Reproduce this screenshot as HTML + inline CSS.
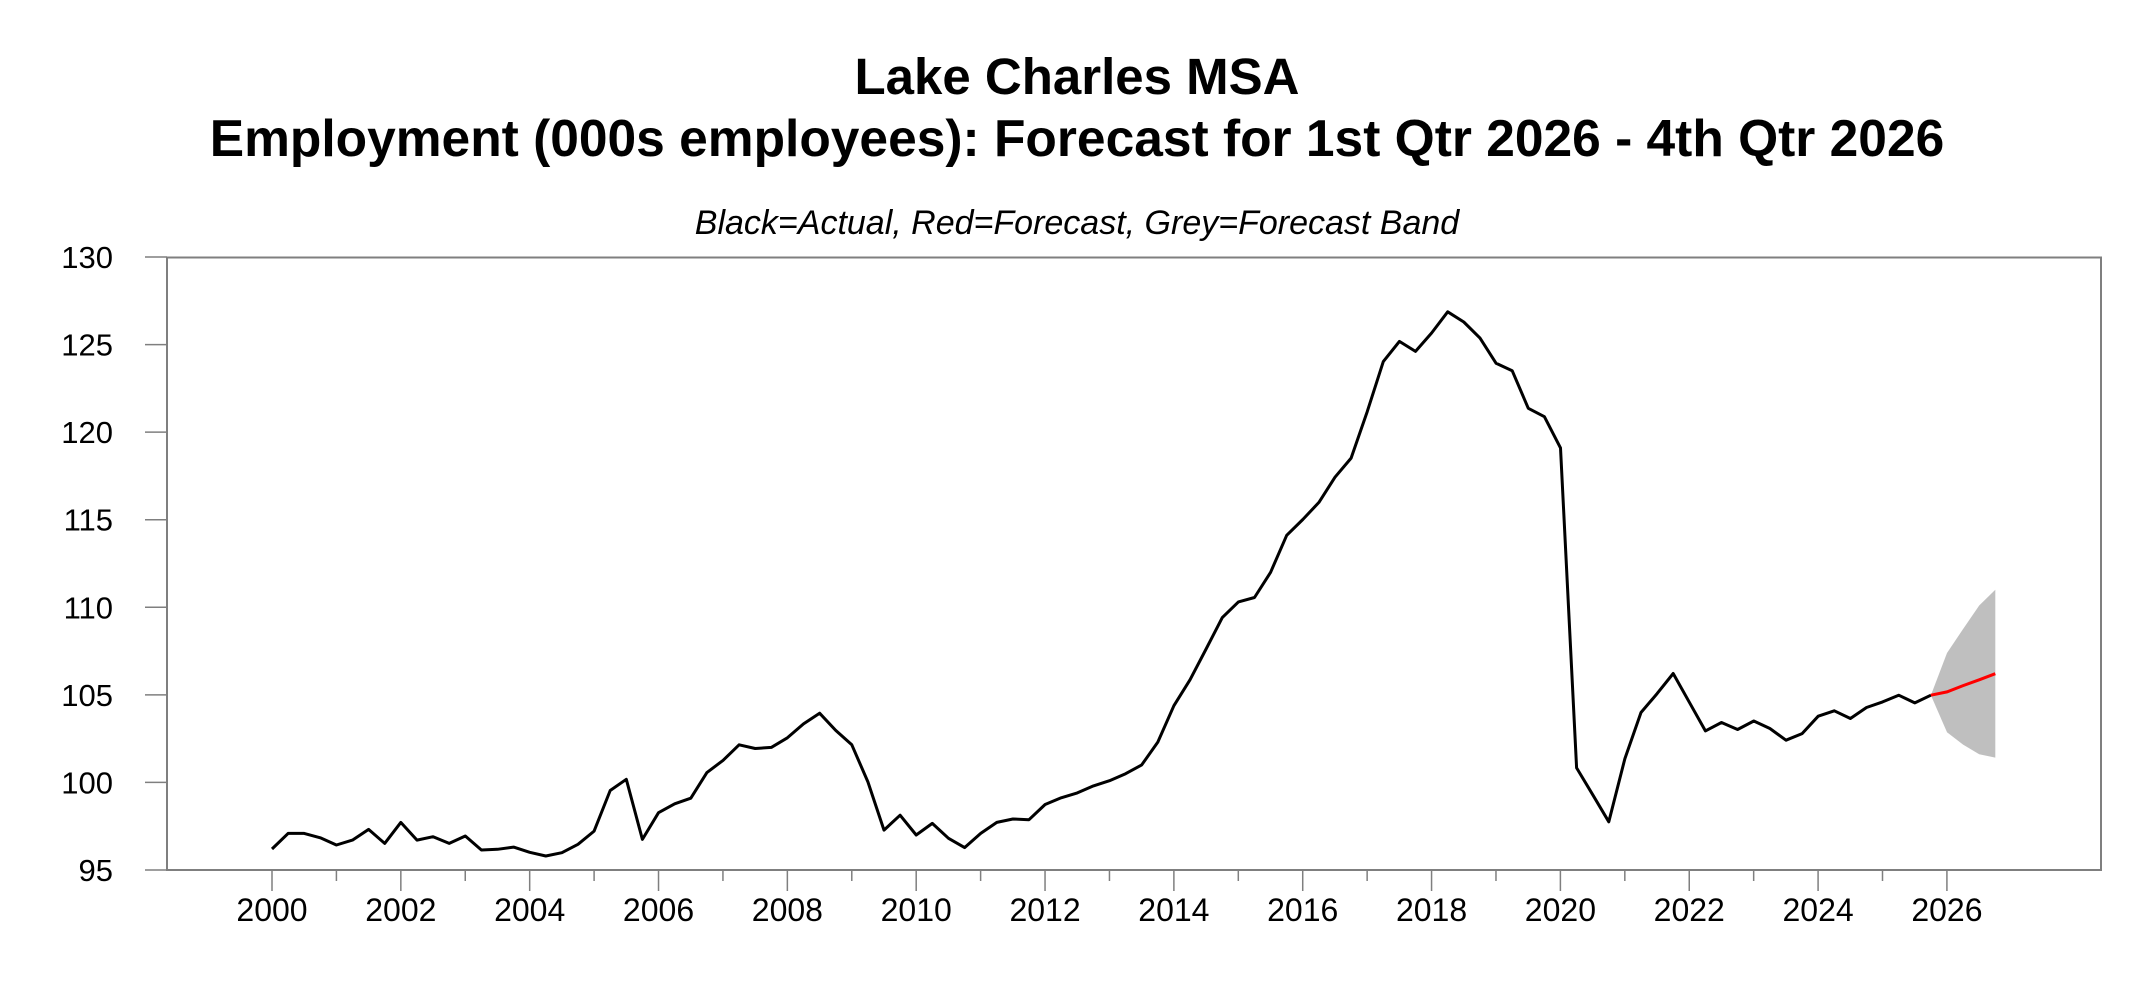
<!DOCTYPE html>
<html><head><meta charset="utf-8"><style>
html,body{margin:0;padding:0;background:#fff;}
svg{display:block;}
</style></head><body>
<svg id="c" width="2155" height="981" xmlns="http://www.w3.org/2000/svg" font-family="'Liberation Sans', Arial, sans-serif">
<rect width="2155" height="981" fill="#fff"/>
<text x="1077" y="94" text-anchor="middle" font-size="51" font-weight="bold">Lake Charles MSA</text>
<text x="1077" y="156" text-anchor="middle" font-size="51.5" font-weight="bold">Employment (000s employees): Forecast for 1st Qtr 2026 - 4th Qtr 2026</text>
<text x="1077" y="234" text-anchor="middle" font-size="34" font-style="italic">Black=Actual, Red=Forecast, Grey=Forecast Band</text>
<g id="g"></g>
</svg>
<script>
var act=[96.2,97.09,97.09,96.84,96.43,96.71,97.32,96.52,97.72,96.71,96.90,96.52,96.94,96.14,96.18,96.31,96.01,95.80,95.99,96.47,97.22,99.54,100.18,96.75,98.27,98.78,99.10,100.56,101.26,102.15,101.94,102.0,102.55,103.34,103.95,102.97,102.15,100.03,97.28,98.13,97.0,97.66,96.81,96.28,97.09,97.72,97.91,97.87,98.74,99.12,
99.4,99.8,100.1,100.5,101.0,102.3,
104.38,105.86,107.62,109.41,110.31,110.56,112.0,114.11,115.01,115.99,117.43,118.52,121.17,124.03,125.18,124.61,125.66,126.87,126.29,125.37,123.93,123.51,121.36,120.88,119.1,
100.83,99.3,97.75,101.36,103.99,105.07,106.22,104.58,102.94,103.42,103.02,103.51,103.08,102.41,102.79,103.78,104.09,103.65,104.28,104.6,104.98,104.54,104.98];
var fc=[104.98,105.17,105.53,105.86,106.21];
var up=[104.98,107.39,108.76,110.1,111.0];
var lo=[104.98,102.87,102.16,101.61,101.42];
function X(i){return 272+i*16.106;}
function Y(v){return 870-(v-95)*17.514;}
var s='';
var p=[];for(var i=0;i<5;i++)p.push(X(103+i).toFixed(1)+','+Y(up[i]).toFixed(1));
for(var i=4;i>=0;i--)p.push(X(103+i).toFixed(1)+','+Y(lo[i]).toFixed(1));
s+='<polygon points="'+p.join(' ')+'" fill="#bfbfbf"/>';
s+='<rect x="167" y="257.5" width="1934" height="612.5" fill="none" stroke="#7f7f7f" stroke-width="2"/>';
for(var v=95;v<=130;v+=5){var y=Y(v);s+='<line x1="145" y1="'+y+'" x2="167" y2="'+y+'" stroke="#7f7f7f" stroke-width="1.5"/>';
s+='<text x="113" y="'+(y+11)+'" text-anchor="end" font-size="31">'+v+'</text>';}
for(var yr=2000;yr<=2026;yr++){var x=272+(yr-2000)*64.42;var L=(yr%2==0)?891:881;
s+='<line x1="'+x+'" y1="870" x2="'+x+'" y2="'+L+'" stroke="#7f7f7f" stroke-width="1.5"/>';
if(yr%2==0)s+='<text x="'+x+'" y="921" text-anchor="middle" font-size="32">'+yr+'</text>';}
var a=[];for(var i=0;i<act.length;i++)a.push(X(i).toFixed(1)+','+Y(act[i]).toFixed(1));
s+='<polyline points="'+a.join(' ')+'" fill="none" stroke="#000" stroke-width="3" stroke-linejoin="round"/>';
var f=[];for(var i=0;i<5;i++)f.push(X(103+i).toFixed(1)+','+Y(fc[i]).toFixed(1));
s+='<polyline points="'+f.join(' ')+'" fill="none" stroke="#ff0000" stroke-width="3"/>';
document.getElementById('g').innerHTML=s;
</script>
</body></html>
